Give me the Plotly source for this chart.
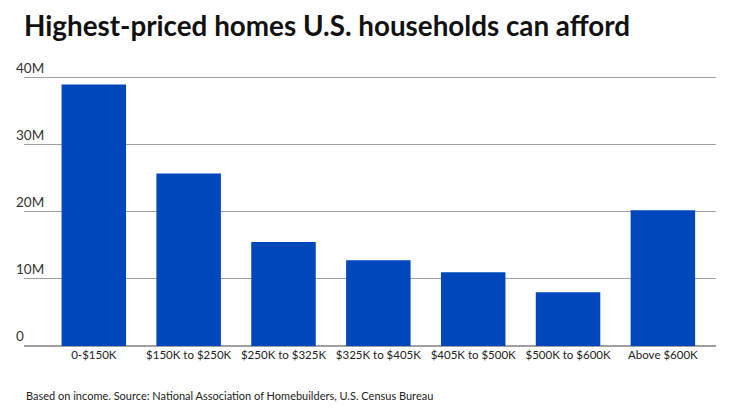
import plotly.graph_objects as go

categories = ["0-$150K", "$150K to $250K", "$250K to $325K", "$325K to $405K",
              "$405K to $500K", "$500K to $600K", "Above $600K"]
households = [39.0e6, 25.7e6, 15.5e6, 12.8e6, 11.0e6, 8.0e6, 20.25e6]
y_ticks = [0, 10e6, 20e6, 30e6, 40e6]
y_tick_labels = ["0", "10M", "20M", "30M", "40M"]

W, H = 740, 416
y_top = 48e6
px_per_unit = (346 - 78) / 40e6
plot_h = y_top * px_per_unit
ml, mr, mb = 24, 24, 70
mt = H - mb - plot_h

fig = go.Figure(go.Bar(
    x=list(range(len(categories))), y=households,
    marker=dict(color="#0047BB", line=dict(width=0)),
    width=0.68,
))

fig.update_layout(
    width=W, height=H,
    margin=dict(l=ml, r=mr, t=mt, b=mb, autoexpand=False),
    paper_bgcolor="white", plot_bgcolor="white",
    font=dict(family="Lato, Noto Sans, sans-serif", color="#222"),
    showlegend=False,
    title=dict(text="<b>Highest-priced homes U.S. households can afford</b>",
               x=24 / W, xref="container", xanchor="left",
               y=1 - 26 / H, yref="container", yanchor="middle",
               font=dict(size=27.8, color="#111", family="Lato, Noto Sans, sans-serif")),
)

fig.update_xaxes(
    tickmode="array", tickvals=list(range(len(categories))), ticktext=categories,
    range=[-0.736, 6.56], showgrid=False, zeroline=False, showline=False,
    ticks="", tickfont=dict(size=11.5, color="#222"), fixedrange=True,
)
fig.update_yaxes(
    tickmode="array", tickvals=y_ticks, ticktext=y_tick_labels,
    range=[0, y_top], showgrid=True, gridcolor="#a0a0a0", gridwidth=1,
    zeroline=True, zerolinecolor="#a0a0a0", zerolinewidth=1.5,
    showline=False, ticks="", ticklabelposition="inside top",
    ticklabelstandoff=-11,
    tickfont=dict(size=13.5, color="#333"), fixedrange=True,
)

fig.add_annotation(
    text="Based on income. Source: National Association of Homebuilders, U.S. Census Bureau",
    xref="paper", yref="paper", x=0, y=(346 - 395) / plot_h,
    xanchor="left", yanchor="middle", showarrow=False,
    font=dict(size=11, color="#222"),
)

fig.write_html("out.html", config={"displayModeBar": False},
               post_script="document.body.style.margin='0';")
